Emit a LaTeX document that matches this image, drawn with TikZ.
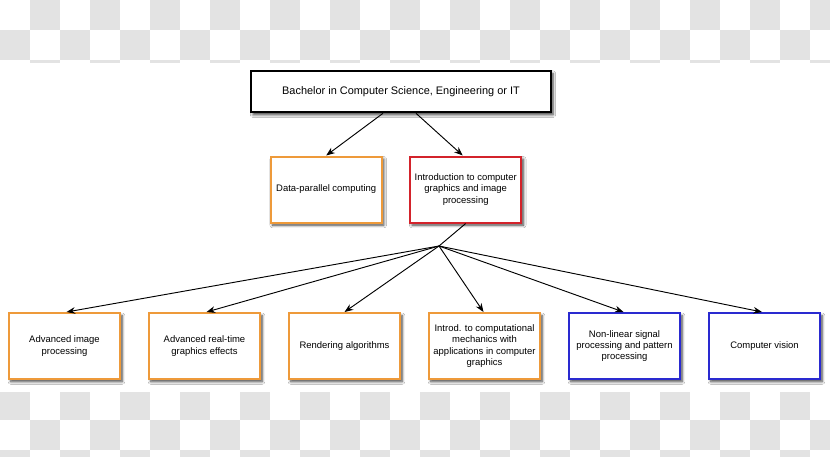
\documentclass[tikz,border=0pt]{standalone}
\usepackage{fontspec}
\setmainfont{Liberation Sans}
\usetikzlibrary{arrows.meta,calc,shadows.blur}
\definecolor{chk}{HTML}{E3E3E3}
\definecolor{orng}{HTML}{EE9A3A}
\definecolor{rd}{HTML}{D3232B}
\definecolor{blu}{HTML}{2A2AD0}
\begin{document}
\begin{tikzpicture}[x=0.75pt,y=-0.75pt,
  box/.style={draw, line width=1.5pt, fill=white, align=center, inner sep=2pt,
    font=\fontsize{7.1}{8.5}\selectfont,
    blur shadow={shadow xshift=1.5pt, shadow yshift=-2pt, shadow blur steps=6, shadow blur radius=2pt, shadow opacity=75}},
  topbox/.style={box, draw=black, line width=1.7pt, minimum width=225pt, minimum height=31pt, font=\fontsize{8.2}{9.5}\selectfont},
  obox/.style={box, draw=orng, minimum width=83.5pt, minimum height=49.5pt},
  rbox/.style={box, draw=rd, minimum width=83.5pt, minimum height=49.5pt},
  bbox/.style={box, draw=blu, minimum width=83.5pt, minimum height=49.5pt},
  conn/.style={draw=black, line width=0.7pt, -{Stealth[length=6.5pt,width=5pt]}},
  plain/.style={draw=black, line width=0.7pt}]
\useasboundingbox (0,0) rectangle (830,456);
\fill[white] (0,0) rectangle (830,456);
% checkerboard (transparency pattern) bands
\begin{scope}
\clip (0,0) rectangle (830,63);
\foreach \r in {0,1,2} {
  \foreach \c in {0,...,27} {
    \pgfmathtruncatemacro{\chkp}{mod(\r+\c,2)}
    \ifnum\chkp=1 \fill[chk] (\c*30,\r*30) rectangle ++(30,30); \fi
  }
}
\end{scope}
\begin{scope}
\clip (0,392) rectangle (830,456);
\foreach \r in {13,14,15} {
  \foreach \c in {0,...,27} {
    \pgfmathtruncatemacro{\chkp}{mod(\r+\c,2)}
    \ifnum\chkp=1 \fill[chk] (\c*30,\r*30) rectangle ++(30,30); \fi
  }
}
\end{scope}
% nodes
\node[topbox] (top) at (401,91.5) {Bachelor in Computer Science, Engineering or IT};
\node[obox] (dp) at (326.2,189.5) {Data-parallel computing};
\node[rbox] (intro) at (465.7,189.5) {Introduction to computer\\graphics and image\\processing};
\node[obox] (b1) at (64.5,346) {Advanced image\\processing};
\node[obox] (b2) at (204.5,346) {Advanced real-time\\graphics effects};
\node[obox] (b3) at (344.5,346) {Rendering algorithms};
\node[obox] (b4) at (484.5,346) {Introd. to computational\\mechanics with\\applications in computer\\graphics};
\node[bbox] (b5) at (624.5,346) {Non-linear signal\\processing and pattern\\processing};
\node[bbox] (b6) at (764.5,346) {Computer vision};
\coordinate (j) at (439,246);
% connectors
\draw[conn] ($(top.south)+(-18,0)$) -- (dp.north);
\draw[conn] ($(top.south)+(15,0)$) -- ($(intro.north)+(-3,0)$);
\draw[plain] (intro.south) -- (j);
\draw[conn] (j) -- ($(b1.north)+(2,0)$);
\draw[conn] (j) -- ($(b2.north)+(2,0)$);
\draw[conn] (j) -- (b3.north);
\draw[conn] (j) -- ($(b4.north)+(-1,0)$);
\draw[conn] (j) -- ($(b5.north)+(-1,0)$);
\draw[conn] (j) -- ($(b6.north)+(-2.5,0)$);
\end{tikzpicture}
\end{document}
